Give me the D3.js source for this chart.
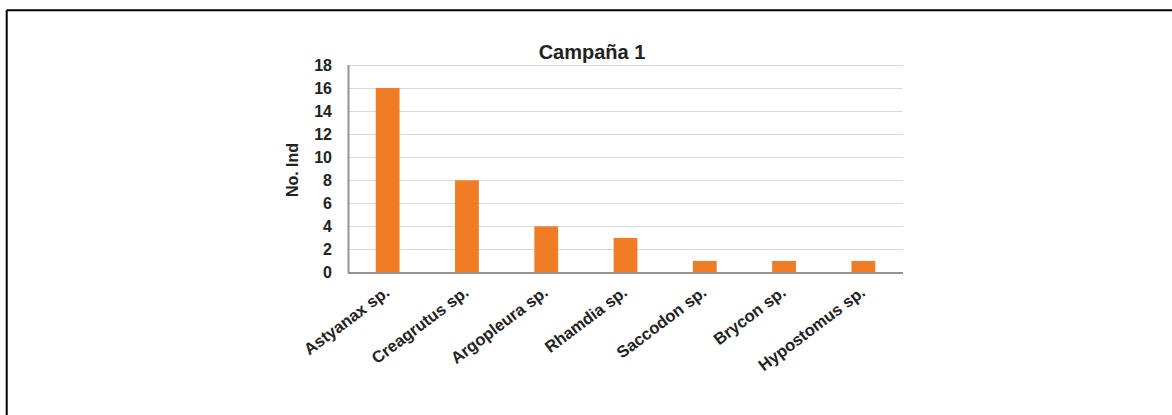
<!DOCTYPE html>
<html>
<head>
<meta charset="utf-8">
<script src="https://cdn.jsdelivr.net/npm/d3@7"></script>
<style>
  html, body { margin: 0; padding: 0; background: #fff; }
  svg { display: block; font-family: "Liberation Sans", Arial, sans-serif; }
</style>
</head>
<body>
<svg id="chart" width="1172" height="415"></svg>
<script>
// Species caught in campaign 1 and their individual counts
const species = ["Astyanax sp.", "Creagrutus sp.", "Argopleura sp.", "Rhamdia sp.", "Saccodon sp.", "Brycon sp.", "Hypostomus sp."];
const counts = [16, 8, 4, 3, 1, 1, 1];
const yTicks = [0, 2, 4, 6, 8, 10, 12, 14, 16, 18];
const chartTitle = "Campaña 1";
const yAxisTitle = "No. Ind";

const svg = d3.select("#chart");
const W = 1172, H = 415;

// Outer frame: only the top and left edges fall inside the view
svg.append("line").attr("x1", 6.7).attr("y1", 10.3).attr("x2", W).attr("y2", 10.3)
  .attr("stroke", "#000").attr("stroke-width", 2);
svg.append("line").attr("x1", 6.7).attr("y1", 10.3).attr("x2", 6.7).attr("y2", H)
  .attr("stroke", "#000").attr("stroke-width", 2);

const plot = { left: 348, right: 903, top: 65, bottom: 272.5 };

const x = d3.scaleBand()
  .domain(species)
  .range([plot.left, plot.right])
  .paddingInner(0.7)
  .paddingOuter(0.35);

const y = d3.scaleLinear()
  .domain([0, 18])
  .range([plot.bottom, plot.top]);

// Horizontal gridlines
svg.append("g")
  .selectAll("line")
  .data(yTicks.filter(d => d > 0))
  .join("line")
  .attr("x1", plot.left).attr("x2", plot.right)
  .attr("y1", d => Math.round(y(d)) + 0.5).attr("y2", d => Math.round(y(d)) + 0.5)
  .attr("stroke", "#d9d9d9").attr("stroke-width", 1.2);

// Bars
svg.append("g")
  .selectAll("rect")
  .data(counts)
  .join("rect")
  .attr("x", (d, i) => x(species[i]))
  .attr("y", d => y(d))
  .attr("width", x.bandwidth())
  .attr("height", d => y(0) - y(d))
  .attr("fill", "#f07c26");

// Y axis: labels only, with a plain axis line
const yAxis = d3.axisLeft(y).tickValues(yTicks).tickSize(0).tickPadding(0);
const gy = svg.append("g").attr("transform", `translate(${plot.left - 16},0)`).call(yAxis);
gy.select(".domain").remove();
gy.selectAll("text")
  .attr("font-size", 16).attr("font-weight", "bold").attr("fill", "#222")
  .attr("font-family", "Liberation Sans, Arial, sans-serif");
svg.append("line")
  .attr("x1", plot.left + 0.5).attr("x2", plot.left + 0.5)
  .attr("y1", plot.top).attr("y2", plot.bottom + 1)
  .attr("stroke", "#939393").attr("stroke-width", 2);

// X axis line and rotated category labels
svg.append("line")
  .attr("x1", plot.left).attr("x2", plot.right)
  .attr("y1", plot.bottom + 0.5).attr("y2", plot.bottom + 0.5)
  .attr("stroke", "#939393").attr("stroke-width", 2);

const xAxis = d3.axisBottom(x).tickSize(0).tickPadding(0);
const gx = svg.append("g").attr("transform", `translate(0,${plot.bottom})`).call(xAxis);
gx.select(".domain").remove();
gx.selectAll("text")
  .attr("font-size", 16.5).attr("font-weight", "bold").attr("fill", "#222")
  .attr("font-family", "Liberation Sans, Arial, sans-serif")
  .attr("text-anchor", "end")
  .attr("dy", null)
  .attr("transform", "translate(3,22) rotate(-37)");

// Y axis title
svg.append("text")
  .attr("transform", "translate(298,170) rotate(-90)")
  .attr("text-anchor", "middle")
  .attr("font-size", 16).attr("font-weight", "bold").attr("fill", "#222")
  .text(yAxisTitle);

// Chart title
svg.append("text")
  .attr("x", 592).attr("y", 59)
  .attr("text-anchor", "middle")
  .attr("font-size", 20).attr("font-weight", "bold").attr("fill", "#222")
  .text(chartTitle);
</script>
</body>
</html>
